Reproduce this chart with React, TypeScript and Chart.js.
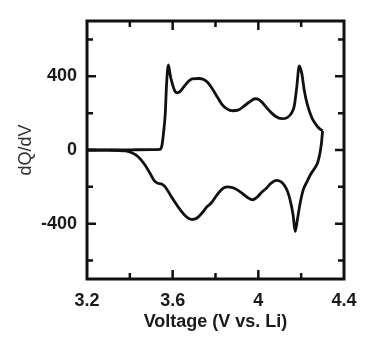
import React, { useEffect, useRef } from 'react';
import { Chart, registerables } from 'chart.js';

Chart.register(...registerables);

// Charge (upper) branch: voltage (V) and dQ/dV
const chargeVoltage = [3.2, 3.3, 3.4, 3.5, 3.54, 3.55, 3.558, 3.565, 3.572, 3.58, 3.588, 3.597, 3.61, 3.622, 3.635, 3.65, 3.67, 3.69, 3.72, 3.745, 3.765, 3.785, 3.81, 3.83, 3.855, 3.88, 3.905, 3.93, 3.96, 3.985, 4.0, 4.02, 4.05, 4.08, 4.11, 4.135, 4.155, 4.168, 4.18, 4.191, 4.196, 4.203, 4.215, 4.228, 4.25, 4.265, 4.28, 4.3];
const chargeDQdV = [0, 0, 1, 2, 3, 25, 100, 190, 367, 462, 410, 365, 320, 310, 318, 340, 368, 386, 388, 383, 365, 332, 285, 248, 222, 213, 216, 235, 262, 278, 275, 255, 215, 183, 170, 176, 200, 240, 347, 457, 445, 415, 320, 250, 175, 145, 122, 104];

// Discharge (lower) branch
const dischargeVoltage = [3.2, 3.3, 3.38, 3.41, 3.44, 3.47, 3.495, 3.515, 3.53, 3.55, 3.565, 3.587, 3.61, 3.634, 3.66, 3.69, 3.71, 3.74, 3.76, 3.782, 3.8, 3.82, 3.84, 3.855, 3.875, 3.9, 3.925, 3.95, 3.975, 3.995, 4.015, 4.035, 4.06, 4.085, 4.105, 4.125, 4.138, 4.148, 4.162, 4.172, 4.182, 4.195, 4.21, 4.226, 4.245, 4.264, 4.278, 4.288, 4.295, 4.3];
const dischargeDQdV = [0, -1, -5, -15, -38, -80, -128, -168, -180, -186, -200, -240, -282, -322, -358, -377, -372, -338, -308, -285, -255, -225, -205, -200, -203, -215, -235, -258, -270, -255, -230, -210, -180, -165, -172, -198, -230, -270, -350, -442, -380, -290, -215, -175, -130, -97, -65, -15, 40, 104];

const xTickValues = [3.2, 3.4, 3.6, 3.8, 4.0, 4.2, 4.4];
const xTickLabels = ['3.2', '3.6', '4', '4.4'];
const yTickValues = [-600, -400, -200, 0, 200, 400, 600];
const yTickLabels = ['-400', '0', '400'];

const xLabelFor = (v: number) => {
  const s = String(Number(v.toFixed(1)));
  return xTickLabels.includes(s) ? s : '';
};
const yLabelFor = (v: number) => {
  const s = String(Math.round(v));
  return yTickLabels.includes(s) ? s : '';
};

const frameTicks = {
  id: 'frameTicks',
  afterDatasetsDraw(chart: any) {
    const { ctx, chartArea, scales } = chart;
    const { left, right, top, bottom } = chartArea;
    const xs = scales.x;
    const ys = scales.y;
    ctx.save();
    ctx.strokeStyle = '#111';
    ctx.lineWidth = 2.5;
    ctx.lineCap = 'butt';
    xs.ticks.forEach((t: any) => {
      const px = xs.getPixelForValue(t.value);
      if (Math.abs(px - left) < 3 || Math.abs(px - right) < 3) return;
      const len = xLabelFor(t.value) ? 9 : 6;
      ctx.beginPath();
      ctx.moveTo(px, bottom);
      ctx.lineTo(px, bottom - len);
      ctx.moveTo(px, top);
      ctx.lineTo(px, top + len);
      ctx.stroke();
    });
    ys.ticks.forEach((t: any) => {
      const py = ys.getPixelForValue(t.value);
      if (Math.abs(py - top) < 3 || Math.abs(py - bottom) < 3) return;
      const len = yLabelFor(t.value) ? 9 : 6;
      ctx.beginPath();
      ctx.moveTo(left, py);
      ctx.lineTo(left + len, py);
      ctx.moveTo(right, py);
      ctx.lineTo(right - len, py);
      ctx.stroke();
    });
    ctx.lineWidth = 3;
    ctx.strokeRect(left, top, right - left, bottom - top);
    ctx.restore();
  },
};

export default function App() {
  const ref = useRef<HTMLCanvasElement | null>(null);

  useEffect(() => {
    if (!ref.current) return;
    const toPts = (xs: number[], ys: number[]) => xs.map((x, i) => ({ x, y: ys[i] }));
    const chart = new Chart(ref.current, {
      type: 'scatter',
      data: {
        datasets: [
          {
            data: toPts(chargeVoltage, chargeDQdV),
            showLine: true,
            borderColor: '#111',
            borderWidth: 2.8,
            pointRadius: 0,
            cubicInterpolationMode: 'monotone',
          },
          {
            data: toPts(dischargeVoltage, dischargeDQdV),
            showLine: true,
            borderColor: '#111',
            borderWidth: 2.8,
            pointRadius: 0,
            cubicInterpolationMode: 'monotone',
          },
        ],
      },
      options: {
        animation: false,
        responsive: true,
        maintainAspectRatio: false,
        layout: { padding: { top: 21, right: 27, left: 0, bottom: 0 } },
        plugins: { legend: { display: false }, tooltip: { enabled: false } },
        scales: {
          x: {
            type: 'linear',
            min: 3.2,
            max: 4.4,
            grid: { display: false },
            border: { display: false },
            afterFit: (s: any) => { s.height = 73; },
            afterBuildTicks: (s: any) => { s.ticks = xTickValues.map((value) => ({ value })); },
            ticks: {
              maxRotation: 0,
              autoSkip: false,
              padding: 3,
              color: '#1a1a1a',
              font: { family: 'Liberation Sans, Arial, sans-serif', size: 18, weight: 'bold' },
              callback: (v: any) => xLabelFor(Number(v)),
            },
            title: {
              display: true,
              text: 'Voltage (V vs. Li)',
              color: '#1a1a1a',
              font: { family: 'Liberation Sans, Arial, sans-serif', size: 18, weight: 'bold' },
              padding: { top: 0, bottom: 19 },
            },
          },
          y: {
            type: 'linear',
            min: -700,
            max: 700,
            grid: { display: false },
            border: { display: false },
            afterFit: (s: any) => { s.width = 87; },
            afterBuildTicks: (s: any) => { s.ticks = yTickValues.map((value) => ({ value })); },
            ticks: {
              autoSkip: false,
              padding: 2,
              color: '#1a1a1a',
              font: { family: 'Liberation Sans, Arial, sans-serif', size: 18, weight: 'bold' },
              callback: (v: any) => yLabelFor(Number(v)),
            },
            title: {
              display: true,
              text: 'dQ/dV',
              color: '#333',
              font: { family: 'Liberation Sans, Arial, sans-serif', size: 18, weight: 'normal' },
              padding: { top: 15, bottom: 0 },
            },
          },
        },
      },
      plugins: [frameTicks],
    } as any);
    return () => chart.destroy();
  }, []);

  return (
    <div style={{ position: 'fixed', left: 0, top: 0, width: 371, height: 352, background: '#fff' }}>
      <canvas ref={ref} />
    </div>
  );
}
